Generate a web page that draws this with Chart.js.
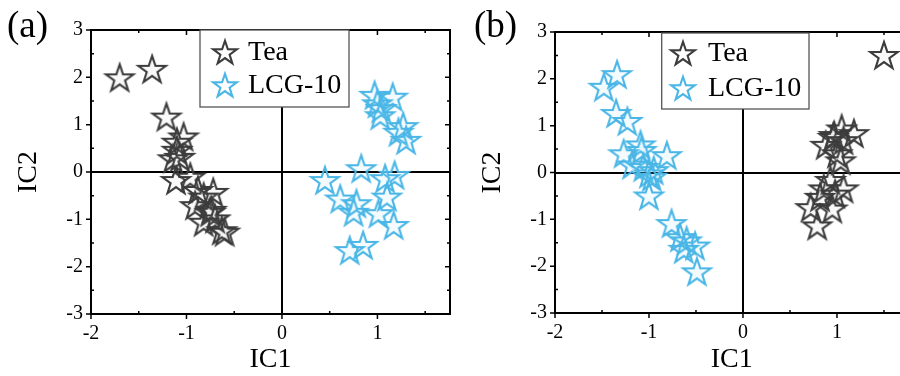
<!DOCTYPE html>
<html><head><meta charset="utf-8">
<script src="https://cdn.jsdelivr.net/npm/chart.js@4.4.0/dist/chart.umd.min.js"></script>
<style>
html,body{margin:0;padding:0;background:#fff;overflow:hidden;width:900px;height:376px;}
#wrap{position:relative;width:900px;height:376px;overflow:hidden;background:#fff;}
#ca{position:absolute;left:0;top:0;}
#cb{position:absolute;left:460px;top:0;}
.lab{position:absolute;font-family:"Liberation Serif","Times New Roman",serif;font-size:37px;line-height:37px;color:#000;}
</style></head><body>
<div id="wrap">
<canvas id="ca" width="470" height="376"></canvas>
<canvas id="cb" width="480" height="376"></canvas>
<div class="lab" style="left:7px;top:6px">(a)</div>
<div class="lab" style="left:474px;top:6px">(b)</div>
</div>
<script>
// ---- data ----
const seriesNames = ['Tea', 'LCG-10'];
const xTitle = 'IC1', yTitle = 'IC2';
const xTicks = [-2, -1, 0, 1];
const xMinor = [-1.5, -0.5, 0.5, 1.5];
const yTicks = [-3, -2, -1, 0, 1, 2, 3];
const yMinor = [-2.5, -1.5, -0.5, 0.5, 1.5, 2.5];

// panel (a)
const teaA_x = [-1.70, -1.36, -1.21, -1.03, -1.10, -1.10, -1.14, -1.07, -1.11, -0.96, -0.88, -0.82, -0.72, -0.91, -0.75, -0.74, -0.82, -0.70, -0.63, -0.60];
const teaA_y = [2.00, 2.18, 1.17, 0.75, 0.64, 0.47, 0.29, 0.32, -0.17, -0.10, -0.38, -0.52, -0.42, -0.70, -0.84, -0.80, -1.05, -0.98, -1.23, -1.26];
const lcgA_x = [0.97, 1.16, 1.00, 1.03, 1.04, 1.27, 1.22, 1.30, 0.45, 0.83, 1.08, 1.18, 0.61, 0.78, 0.75, 1.10, 1.01, 1.17, 0.71, 0.85];
const lcgA_y = [1.63, 1.59, 1.45, 1.20, 1.35, 0.97, 0.85, 0.68, -0.17, 0.08, -0.13, -0.06, -0.56, -0.66, -0.84, -0.52, -0.87, -1.12, -1.65, -1.54];

// panel (b)
const teaB_x = [1.50, 1.18, 1.05, 0.96, 0.97, 0.88, 1.07, 1.00, 1.04, 0.93, 0.86, 1.07, 0.98, 0.82, 0.72, 0.95, 0.79];
const teaB_y = [2.51, 0.84, 0.94, 0.76, 0.80, 0.59, 0.69, 0.41, 0.26, -0.16, -0.34, -0.34, -0.45, -0.52, -0.74, -0.77, -1.13];
const lcgB_x = [-1.34, -1.48, -1.35, -1.23, -1.27, -1.09, -1.08, -0.81, -1.18, -1.06, -1.00, -0.95, -0.97, -1.00, -0.76, -0.67, -0.60, -0.63, -0.51, -0.49];
const lcgB_y = [2.10, 1.83, 1.27, 1.10, 0.41, 0.60, 0.48, 0.37, 0.17, 0.12, -0.02, 0.05, -0.09, -0.49, -1.08, -1.38, -1.45, -1.63, -1.56, -2.11];

// ---- styles ----
const teaColor = '#3c3c3c', teaFill = 'rgba(140,140,140,0.05)';
const lcgColor = '#4ab6e6', lcgFill = 'rgba(74,182,230,0.06)';
const FONT = "'Liberation Serif', 'Times New Roman', serif";
Chart.defaults.font.family = FONT;
Chart.defaults.color = '#000';

function starImg(R, stroke, fill, lw) {
  const s = Math.ceil(2 * R + lw * 2 + 4);
  const c = document.createElement('canvas'); c.width = s; c.height = s;
  const g = c.getContext('2d'); const cx = s / 2, cy = s / 2 + R * 0.1;
  g.beginPath();
  for (let i = 0; i < 10; i++) {
    const r = i % 2 ? R * 0.39 : R; const a = -Math.PI / 2 + i * Math.PI / 5;
    g.lineTo(cx + r * Math.cos(a), cy + r * Math.sin(a));
  }
  g.closePath(); g.fillStyle = fill; g.fill();
  g.lineWidth = lw; g.strokeStyle = stroke; g.lineJoin = 'miter'; g.stroke();
  return c;
}
const teaStar = starImg(14.5, teaColor, teaFill, 2.1);
const lcgStar = starImg(14.5, lcgColor, lcgFill, 2.1);
const teaStarL = starImg(12.5, teaColor, 'rgba(255,255,255,0)', 2.1);
const lcgStarL = starImg(12.5, lcgColor, 'rgba(255,255,255,0)', 2.1);

const framePlugin = {
  id: 'frame',
  beforeDatasetsDraw(chart) {
    const {ctx, chartArea: a, scales: {x, y}} = chart;
    ctx.save(); ctx.strokeStyle = '#000'; ctx.lineWidth = 2;
    const x0 = Math.round(x.getPixelForValue(0)), y0 = Math.round(y.getPixelForValue(0));
    ctx.beginPath();
    ctx.moveTo(x0, a.top); ctx.lineTo(x0, a.bottom);
    ctx.moveTo(a.left, y0); ctx.lineTo(a.right, y0);
    ctx.stroke(); ctx.restore();
  },
  afterDraw(chart, args, opts) {
    const {ctx, chartArea: a, scales: {x, y}} = chart;
    ctx.save(); ctx.strokeStyle = '#000'; ctx.lineWidth = 2;
    ctx.strokeRect(a.left, a.top, a.right - a.left, a.bottom - a.top);
    ctx.lineWidth = 1.5;
    ctx.beginPath();
    xTicks.forEach(v => { const p = x.getPixelForValue(v);
      ctx.moveTo(p, a.bottom); ctx.lineTo(p, a.bottom + 5);
      ctx.moveTo(p, a.top); ctx.lineTo(p, a.top + 5); });
    xMinor.forEach(v => { const p = x.getPixelForValue(v);
      ctx.moveTo(p, a.bottom); ctx.lineTo(p, a.bottom - 3);
      ctx.moveTo(p, a.top); ctx.lineTo(p, a.top + 3); });
    yTicks.forEach(v => { const p = y.getPixelForValue(v);
      ctx.moveTo(a.left - 5, p); ctx.lineTo(a.left, p);
      ctx.moveTo(a.right, p); ctx.lineTo(a.right - 5, p); });
    yMinor.forEach(v => { const p = y.getPixelForValue(v);
      ctx.moveTo(a.left, p); ctx.lineTo(a.left + 3, p);
      ctx.moveTo(a.right, p); ctx.lineTo(a.right - 3, p); });
    ctx.stroke();
    // legend
    const L = opts.legend;
    ctx.fillStyle = '#fff'; ctx.fillRect(L.x1, L.y1, L.x2 - L.x1, L.y2 - L.y1);
    ctx.strokeStyle = '#555'; ctx.lineWidth = 1.3;
    ctx.strokeRect(L.x1, L.y1, L.x2 - L.x1, L.y2 - L.y1);
    ctx.fillStyle = '#000'; ctx.font = '28px ' + FONT; ctx.textBaseline = 'middle'; ctx.textAlign = 'left';
    const imgs = [teaStarL, lcgStarL];
    chart.data.datasets.forEach((d, i) => {
      const im = imgs[i];
      ctx.drawImage(im, L.sx - im.width / 2, L.rows[i] - im.height / 2);
      ctx.fillText(d.label, L.tx, L.rows[i] + 1);
    });
    ctx.restore();
  }
};

function pts(xs, ys) { return xs.map((v, i) => ({x: v, y: ys[i]})); }

function makeChart(id, teaX, teaY, lcgX, lcgY, L) {
  const ds = [
    {label: seriesNames[0], data: pts(teaX, teaY), pointStyle: teaStar, pointRadius: 15, clip: false},
    {label: seriesNames[1], data: pts(lcgX, lcgY), pointStyle: lcgStar, pointRadius: 15, clip: false}
  ];
  return new Chart(document.getElementById(id), {
    type: 'scatter',
    data: {datasets: ds},
    options: {
      responsive: false, animation: false, events: [],
      layout: {padding: {left: 0, top: L.top, right: L.right, bottom: 0}},
      plugins: {legend: {display: false}, tooltip: {enabled: false}, frame: {legend: L.legend}},
      scales: {
        x: {
          type: 'linear', min: -2, max: 1.76,
          afterBuildTicks: s => { s.ticks = xTicks.map(v => ({value: v})); },
          afterFit: s => { s.height = L.xH; },
          grid: {display: false, drawTicks: false}, border: {display: false},
          ticks: {color: '#000', font: {size: 20}, padding: 8, maxRotation: 0, autoSkip: false},
          title: {display: true, text: xTitle, color: '#000', font: {size: 28, lineHeight: 1}, padding: {top: 0, bottom: 2}}
        },
        y: {
          type: 'linear', min: -3, max: 3,
          afterBuildTicks: s => { s.ticks = yTicks.map(v => ({value: v})); },
          afterFit: s => { s.width = L.yW; },
          grid: {display: false, drawTicks: false}, border: {display: false},
          ticks: {color: '#000', font: {size: 20}, padding: 8, autoSkip: false},
          title: {display: true, text: yTitle, color: '#000', font: {size: 28, lineHeight: 1}, padding: {top: L.yW - 76, bottom: 0}}
        }
      }
    },
    plugins: [framePlugin]
  });
}

function build() {
  makeChart('ca', teaA_x, teaA_y, lcgA_x, lcgA_y, {
    top: 30, right: 20, xH: 62, yW: 91,
    legend: {x1: 200, y1: 30, x2: 349, y2: 107, sx: 225, tx: 248, rows: [52, 85]}
  });
  makeChart('cb', teaB_x, teaB_y, lcgB_x, lcgB_y, {
    top: 32, right: 480 - 448.4, xH: 63, yW: 95,
    legend: {x1: 201.7, y1: 33, x2: 349, y2: 109, sx: 223, tx: 248, rows: [53, 88]}
  });
}
if (document.fonts && document.fonts.load) {
  Promise.all([document.fonts.load("20px 'Liberation Serif'"), document.fonts.load("28px 'Liberation Serif'")])
    .then(build, build);
} else { build(); }
</script>
</body></html>
